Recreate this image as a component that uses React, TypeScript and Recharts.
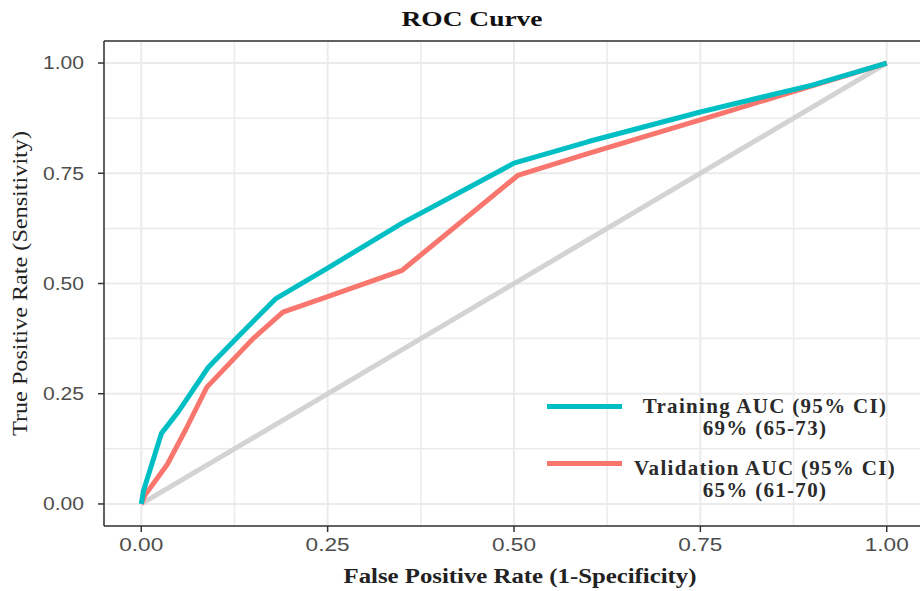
import React from "react";
import { LineChart, Line, XAxis, YAxis, CartesianGrid, ReferenceLine, Label } from "recharts";

const majorTicks = [0, 0.25, 0.5, 0.75, 1];
const minorTicks = [0.125, 0.375, 0.625, 0.875];

const trainingFpr = [0, 0.003, 0.027, 0.05, 0.09, 0.13, 0.18, 0.25, 0.35, 0.42, 0.5, 0.6, 0.75, 0.9, 1];
const trainingTpr = [0, 0.03, 0.16, 0.21, 0.31, 0.38, 0.465, 0.535, 0.637, 0.7, 0.773, 0.822, 0.889, 0.95, 1];

const validationFpr = [0, 0.005, 0.035, 0.06, 0.088, 0.15, 0.19, 0.25, 0.35, 0.505, 0.6, 0.75, 1];
const validationTpr = [0, 0.02, 0.09, 0.17, 0.265, 0.375, 0.435, 0.47, 0.53, 0.745, 0.795, 0.871, 1];

const chanceFpr = [0, 1];
const chanceTpr = [0, 1];

const toPoints = (xs: number[], ys: number[]) => xs.map((x, i) => ({ x, y: ys[i] }));

const series = [
  { name: "Training AUC (95% CI)", auc: "69% (65-73)", color: "#00BFC4", data: toPoints(trainingFpr, trainingTpr) },
  { name: "Validation AUC (95% CI)", auc: "65% (61-70)", color: "#F8766D", data: toPoints(validationFpr, validationTpr) },
];

const SERIF = "'Liberation Serif', 'Times New Roman', serif";
const SANS = "'Liberation Sans', Arial, sans-serif";
const fmt = (v: number) => v.toFixed(2);

function XTick({ x, y, payload }: any) {
  return (
    <text x={x} y={y} dy="0.71em" textAnchor="middle" fill="#4d4d4d" fontSize={18} fontFamily={SANS}
      textLength={44} lengthAdjust="spacingAndGlyphs">
      {fmt(payload.value)}
    </text>
  );
}

function YTick({ x, y, payload }: any) {
  return (
    <text x={x} y={y} dy="0.35em" textAnchor="end" fill="#4d4d4d" fontSize={18} fontFamily={SANS}
      textLength={41} lengthAdjust="spacingAndGlyphs">
      {fmt(payload.value)}
    </text>
  );
}

export default function App() {
  return (
    <div style={{ position: "absolute", left: 0, top: 0, width: 920, height: 591, overflow: "hidden", background: "#fff" }}>
      <svg width={920} height={40} style={{ position: "absolute", left: 0, top: 0 }}>
        <text x={472} y={26} textAnchor="middle" fontFamily={SERIF} fontWeight="bold" fontSize={21} fill="#111"
          textLength={141} lengthAdjust="spacingAndGlyphs">
          ROC Curve
        </text>
      </svg>
      <LineChart width={924} height={591} margin={{ top: 41, right: 0, bottom: 0, left: 44 }}>
        <CartesianGrid stroke="#ebebeb" strokeWidth={2} />
        {minorTicks.map((v) => (
          <ReferenceLine key={`mx${v}`} x={v} stroke="#ebebeb" strokeWidth={1.5} />
        ))}
        {minorTicks.map((v) => (
          <ReferenceLine key={`my${v}`} y={v} stroke="#ebebeb" strokeWidth={1.5} />
        ))}
        <ReferenceLine y={1.05} stroke="#333" strokeWidth={1.5} />
        <XAxis
          dataKey="x"
          type="number"
          domain={[-0.05, 1.05]}
          ticks={majorTicks}
          height={65}
          tickSize={6}
          tickMargin={6}
          stroke="#333"
          strokeWidth={1.5}
          tick={<XTick />}
        >
          <Label
            content={({ viewBox }: any) => (
              <text x={viewBox.x + viewBox.width / 2 + 6} y={viewBox.y + 57} textAnchor="middle" fontFamily={SERIF}
                fontWeight="bold" fontSize={20} fill="#222" textLength={353} lengthAdjust="spacingAndGlyphs">
                False Positive Rate (1-Specificity)
              </text>
            )}
          />
        </XAxis>
        <YAxis
          dataKey="y"
          type="number"
          domain={[-0.05, 1.05]}
          ticks={majorTicks}
          width={60}
          tickSize={6}
          tickMargin={14}
          stroke="#333"
          strokeWidth={1.5}
          tick={<YTick />}
        >
          <Label
            content={({ viewBox }: any) => {
              const cx = viewBox.x - 24;
              const cy = viewBox.y + viewBox.height / 2;
              return (
                <text x={cx} y={cy} dy="0.35em" transform={`rotate(-90 ${cx} ${cy})`} textAnchor="middle"
                  fontFamily={SERIF} fontSize={20} fill="#222" textLength={305} lengthAdjust="spacingAndGlyphs">
                  True Positive Rate (Sensitivity)
                </text>
              );
            }}
          />
        </YAxis>
        <Line
          data={toPoints(chanceFpr, chanceTpr)}
          dataKey="y"
          type="linear"
          stroke="#d3d3d3"
          strokeWidth={5}
          dot={false}
          activeDot={false}
          isAnimationActive={false}
        />
        {[...series].reverse().map((s) => (
          <Line
            key={s.name}
            data={s.data}
            dataKey="y"
            name={s.name}
            type="linear"
            stroke={s.color}
            strokeWidth={5}
            strokeLinejoin="round"
            dot={false}
            activeDot={false}
            isAnimationActive={false}
          />
        ))}
      </LineChart>
      {series.map((s, i) => (
        <div key={s.name}>
          <div style={{ position: "absolute", left: 547, top: 403.5 + i * 57, width: 75, height: 5, background: s.color }} />
          <div
            style={{
              position: "absolute",
              left: 625,
              top: 395 + i * 62,
              width: 280,
              textAlign: "center",
              fontFamily: SERIF,
              fontWeight: "bold",
              fontSize: 21,
              letterSpacing: "1.3px",
              lineHeight: "22px",
              color: "#2b2b2b",
            }}
          >
            <div>{s.name}</div>
            <div>{s.auc}</div>
          </div>
        </div>
      ))}
    </div>
  );
}
